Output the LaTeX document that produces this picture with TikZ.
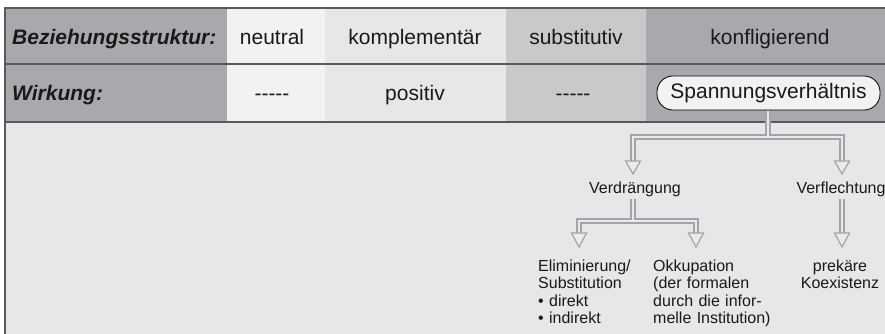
\documentclass[tikz,border=0pt]{standalone}
\usepackage{fontspec}
\setmainfont{Liberation Sans}
\definecolor{cLab}{HTML}{A7A9AC}
\definecolor{cNeu}{HTML}{F1F2F2}
\definecolor{cKom}{HTML}{E6E7E8}
\definecolor{cSub}{HTML}{C8C9CB}
\definecolor{cKon}{HTML}{A7A9AC}
\definecolor{cLow}{HTML}{E6E7E8}
\definecolor{cLine}{HTML}{58595B}
\definecolor{cArr}{HTML}{A2A4A7}
\definecolor{cArrIn}{HTML}{E9EAEB}
\definecolor{cBox}{HTML}{F1F2F2}
\tikzset{
  hdr/.style={inner sep=0pt, font=\fontsize{21}{25}\selectfont, text=black!90},
  sm/.style={inner sep=0pt, font=\fontsize{16}{17.5}\selectfont, text=black!90},
  arrout/.style={draw=cArr, line width=5.5pt, line join=miter, line cap=butt},
  arrin/.style={draw=cArrIn, line width=2.6pt, line join=miter, line cap=butt},
  arrhead/.style={draw=cArr, fill=cArrIn, line width=1.2pt, line join=miter},
  sepline/.style={draw=cLine, line width=2pt}
}
\begin{document}
\begin{tikzpicture}[x=1pt,y=-1pt]
\useasboundingbox (0,0) rectangle (885,334);
% backgrounds
\fill[cLab] (5,8) rectangle (227,122);
\fill[cNeu] (227,8) rectangle (325,122);
\fill[cKom] (325,8) rectangle (506,122);
\fill[cSub] (506,8) rectangle (646,122);
\fill[cKon] (646,8) rectangle (885,122);
\fill[cLow] (5,122) rectangle (885,334);
\draw[cLine, line width=1.5pt] (4,8) -- (885,8);
\draw[sepline] (5,64) -- (885,64);
\draw[sepline] (5,122) -- (885,122);
\draw[sepline] (5,8) -- (5,334);
% header row
\node[hdr, anchor=base west] (lab1) at (12,45) {\bfseries\itshape Beziehungsstruktur:};
\node[hdr, anchor=base] (neu) at (272,45) {neutral};
\node[hdr, anchor=base] (kom) at (415,45) {komplementär};
\node[hdr, anchor=base] (sub) at (576,45) {substitutiv};
\node[hdr, anchor=base] (kon) at (770,45) {konfligierend};
% second row
\node[hdr, anchor=base west] (lab2) at (12,100) {\bfseries\itshape Wirkung:};
\node[hdr, anchor=base] (w1) at (272,100) {{-}{-}{-}{-}{-}};
\node[hdr, anchor=base] (w2) at (415,100) {positiv};
\node[hdr, anchor=base] (w3) at (573,100) {{-}{-}{-}{-}{-}};
\node[hdr, draw=black, fill=cBox, line width=0.8pt, rounded corners=16pt,
      minimum width=223pt, minimum height=34pt] (sp) at (768.5,93) {Spannungsverhältnis};
% lower labels
\node[sm, anchor=base] (vd) at (635,193) {Verdrängung};
\node[sm, anchor=base] (vf) at (841,193) {Verflechtung};
\node[sm, anchor=north west, text width=110pt, align=left] (el) at (538,259.5) {Eliminierung/\\Substitution\\• direkt\\• indirekt};
\node[sm, anchor=north west, text width=130pt, align=left] (ok) at (653,259.5) {Okkupation\\(der formalen\\durch die infor-\\melle Institution)};
\node[sm, anchor=north, text width=90pt, align=center] (pk) at (840,259.5) {prekäre\\Koexistenz};
% coordinates
\coordinate (j1) at (768,137);
\coordinate (l1) at (633,137);
\coordinate (r1) at (842,137);
\coordinate (l1b) at (633,161);
\coordinate (r1b) at (842,161);
\coordinate (j2) at (633,221);
\coordinate (l2) at (579,221);
\coordinate (r2) at (696,221);
\coordinate (l2b) at (579,233);
\coordinate (r2b) at (696,233);
\coordinate (vfb) at (842,233);
% arrows level 1
\draw[arrout] ([yshift=-0.5pt]sp.south -| j1) -- (j1);
\draw[arrout] (l1b) -- (l1) -- (r1) -- (r1b);
\draw[arrin] ([yshift=-1pt]sp.south -| j1) -- (j1);
\draw[arrin] (l1b) -- (l1) -- (r1) -- (r1b);
\draw[arrhead] ([xshift=-7.5pt]l1b) -- ([xshift=7.5pt]l1b) -- ([yshift=-13pt]l1b) -- cycle;
\draw[arrhead] ([xshift=-7.5pt]r1b) -- ([xshift=7.5pt]r1b) -- ([yshift=-13pt]r1b) -- cycle;
% arrows level 2
\draw[arrout] ([yshift=-2pt]vd.south -| j2) -- (j2);
\draw[arrout] (l2b) -- (l2) -- (r2) -- (r2b);
\draw[arrout] ([yshift=-2pt]vf.south -| vfb) -- (vfb);
\draw[arrin] ([yshift=-2pt]vd.south -| j2) -- (j2);
\draw[arrin] (l2b) -- (l2) -- (r2) -- (r2b);
\draw[arrin] ([yshift=-2pt]vf.south -| vfb) -- (vfb);
\draw[arrhead] ([xshift=-7.5pt]l2b) -- ([xshift=7.5pt]l2b) -- ([yshift=-14pt]l2b) -- cycle;
\draw[arrhead] ([xshift=-7.5pt]r2b) -- ([xshift=7.5pt]r2b) -- ([yshift=-14pt]r2b) -- cycle;
\draw[arrhead] ([xshift=-7.5pt]vfb) -- ([xshift=7.5pt]vfb) -- ([yshift=-14pt]vfb) -- cycle;
\end{tikzpicture}
\end{document}
